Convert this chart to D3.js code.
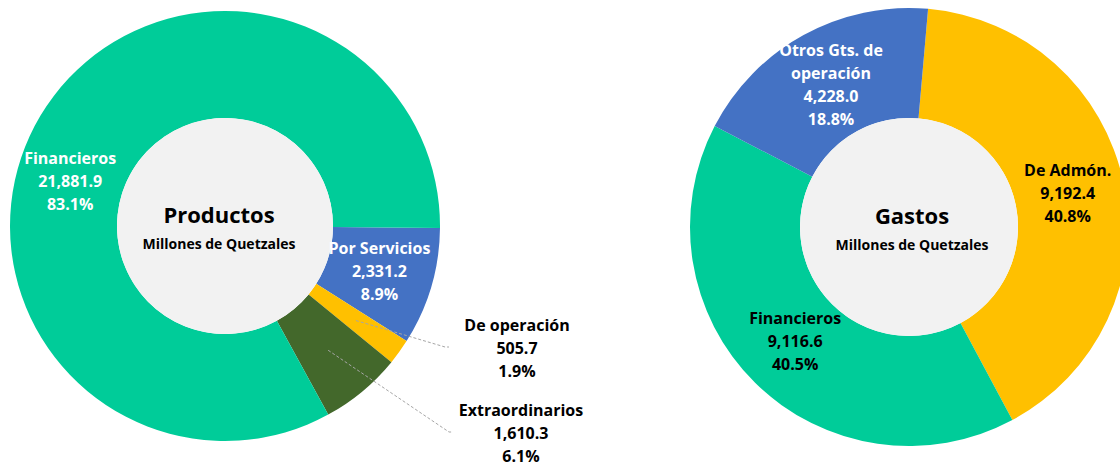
<!DOCTYPE html>
<html>
<head>
<meta charset="utf-8">
<script src="https://cdn.jsdelivr.net/npm/d3@7"></script>
<style>
  body { margin: 0; background: #fff; }
  text { font-family: "Open Sans", Lato, sans-serif; font-weight: bold; }
</style>
</head>
<body>
<svg width="1120" height="466"></svg>
<script>
// Productos (drawn clockwise starting at 3 o'clock)
var prodNames  = ["Por Servicios", "De operación", "Extraordinarios", "Financieros"];
var prodValues = [2331.2, 505.7, 1610.3, 21881.9];
var prodPct    = ["8.9%", "1.9%", "6.1%", "83.1%"];
var prodColors = ["#4472C4", "#FFC000", "#43682B", "#00CC99"];

// Gastos (drawn clockwise starting just past 12 o'clock)
var gasNames  = [["De Admón."], ["Financieros"], ["Otros Gts. de", "operación"]];
var gasValues = [9192.4, 9116.6, 4228.0];
var gasPct    = ["40.8%", "40.5%", "18.8%"];
var gasColors = ["#FFC000", "#00CC99", "#4472C4"];
var gasText   = ["#000", "#000", "#fff"];

var svg = d3.select("svg");
var fmt = d3.format(",.1f");
var deg = Math.PI / 180;

function donut(opt) {
  var g = svg.append("g").attr("transform", "translate(" + opt.cx + "," + opt.cy + ")");
  var pie = d3.pie().sort(null).value(function(d){ return d.value; })
    .startAngle(opt.start).endAngle(opt.start + 2 * Math.PI);
  var arc = d3.arc().innerRadius(opt.inner).outerRadius(opt.outer);

  var arcs = pie(opt.data);

  g.selectAll("path.slice")
    .data(arcs)
    .enter().append("path")
    .attr("class", "slice")
    .attr("d", arc)
    .attr("fill", function(d){ return d.data.color; });

  g.append("circle").attr("r", opt.inner).attr("fill", "#F2F2F2");

  g.append("text").attr("x", opt.titleDx).attr("y", -3)
    .attr("text-anchor", "middle").attr("font-size", 22).attr("fill", "#000")
    .text(opt.title);
  g.append("text").attr("x", opt.titleDx).attr("y", 23)
    .attr("text-anchor", "middle").attr("font-size", 14).attr("fill", "#000")
    .text("Millones de Quetzales");

  arcs.forEach(function(d) {
    var lines = d.data.lines.concat([fmt(d.data.value), d.data.pct]);
    var pos;
    if (d.data.outside) {
      var c = arc.centroid(d);
      pos = d.data.outside;
      g.append("polyline")
        .attr("points", [c, [pos[0] - 72, pos[1] - 2], [pos[0] - 68, pos[1] - 2]].map(function(p){ return p.join(","); }).join(" "))
        .attr("fill", "none").attr("stroke", "#A6A6A6").attr("stroke-width", 1)
        .attr("stroke-dasharray", "3,2");
    } else {
      var a = (d.startAngle + d.endAngle) / 2 + (d.data.nudge || 0) * deg;
      pos = [opt.labelR * Math.sin(a), -opt.labelR * Math.cos(a)];
    }
    var t = g.append("text").attr("text-anchor", "middle")
      .attr("font-size", 16).attr("fill", d.data.textColor);
    var y0 = pos[1] - (lines.length - 1) * 23 / 2 + 5;
    lines.forEach(function(s, i) {
      t.append("tspan").attr("x", pos[0]).attr("y", y0 + i * 23).text(s);
    });
  });
}

donut({
  cx: 225, cy: 226, outer: 215, inner: 108, labelR: 161, start: 90.5 * deg,
  title: "Productos", titleDx: -6,
  data: prodNames.map(function(n, i) {
    return {
      lines: [n], value: prodValues[i], pct: prodPct[i], color: prodColors[i],
      textColor: i === 1 || i === 2 ? "#000" : "#fff",
      nudge: n === "Financieros" ? -15 : 0,
      outside: n === "De operación" ? [292, 123] : n === "Extraordinarios" ? [296, 208] : null
    };
  })
});

donut({
  cx: 909, cy: 227, outer: 219, inner: 109, labelR: 162, start: 5 * deg,
  title: "Gastos", titleDx: 3,
  data: gasNames.map(function(n, i) {
    return { lines: n, value: gasValues[i], pct: gasPct[i], color: gasColors[i], textColor: gasText[i] };
  })
});
</script>
</body>
</html>
